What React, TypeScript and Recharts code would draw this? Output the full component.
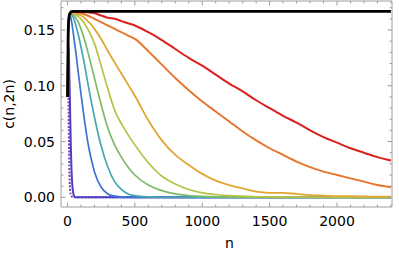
import React from 'react';
import { LineChart, Line, XAxis, YAxis, ReferenceLine } from 'recharts';

const nValues = [1, 5, 10, 15, 20, 25, 30, 40, 50, 60, 80, 100, 125, 150, 175, 200, 250, 300, 350, 400, 450, 500, 600, 700, 800, 900, 1000, 1100, 1200, 1300, 1400, 1500, 1600, 1700, 1800, 1900, 2000, 2100, 2200, 2300, 2400];

const purple = [0.09, 0.11, 0.06, 0.02, 0.006, 0.002, 0.001, 0, 0, 0, 0, 0, 0, 0, 0, 0, 0, 0, 0, 0, 0, 0, 0, 0, 0, 0, 0, 0, 0, 0, 0, 0, 0, 0, 0, 0, 0, 0, 0, 0, 0];
const indigo = [0.09, 0.14, 0.13, 0.105, 0.075, 0.045, 0.025, 0.006, 0.001, 0, 0, 0, 0, 0, 0, 0, 0, 0, 0, 0, 0, 0, 0, 0, 0, 0, 0, 0, 0, 0, 0, 0, 0, 0, 0, 0, 0, 0, 0, 0, 0];
const blue = [0.09, 0.145, 0.16, 0.163, 0.163, 0.161, 0.158, 0.15, 0.141, 0.132, 0.112, 0.093, 0.07, 0.05, 0.035, 0.023, 0.009, 0.003, 0.001, 0.0003, 0, 0, 0, 0, 0, 0, 0, 0, 0, 0, 0, 0, 0, 0, 0, 0, 0, 0, 0, 0, 0];
const teal = [0.09, 0.145, 0.16, 0.164, 0.165, 0.165, 0.164, 0.162, 0.159, 0.155, 0.146, 0.135, 0.12, 0.103, 0.087, 0.072, 0.046, 0.027, 0.014, 0.007, 0.003, 0.0015, 0.0003, 0, 0, 0, 0, 0, 0, 0, 0, 0, 0, 0, 0, 0, 0, 0, 0, 0, 0];
const green = [0.09, 0.145, 0.16, 0.164, 0.165, 0.165, 0.165, 0.164, 0.163, 0.161, 0.157, 0.151, 0.142, 0.131, 0.119, 0.107, 0.083, 0.062, 0.047, 0.036, 0.027, 0.02, 0.011, 0.006, 0.003, 0.0015, 0.0008, 0.0004, 0.0002, 0, 0, 0, 0, 0, 0, 0, 0, 0, 0, 0, 0];
const yellowGreen = [0.09, 0.145, 0.16, 0.164, 0.165, 0.165, 0.165, 0.165, 0.165, 0.164, 0.162, 0.16, 0.156, 0.151, 0.145, 0.138, 0.118, 0.097, 0.078, 0.066, 0.056, 0.047, 0.031, 0.019, 0.012, 0.007, 0.004, 0.0025, 0.0015, 0.001, 0.0005, 0.0004, 0.0003, 0.0002, 0.0001, 0, 0, 0, 0, 0, 0];
const yellow = [0.09, 0.145, 0.16, 0.164, 0.165, 0.165, 0.166, 0.166, 0.166, 0.165, 0.164, 0.163, 0.161, 0.158, 0.155, 0.151, 0.142, 0.131, 0.121, 0.111, 0.101, 0.091, 0.069, 0.051, 0.038, 0.029, 0.021, 0.015, 0.011, 0.008, 0.005, 0.004, 0.004, 0.003, 0.002, 0.0015, 0.001, 0.001, 0.0008, 0.0006, 0.0005];
const orange = [0.09, 0.145, 0.16, 0.164, 0.165, 0.166, 0.166, 0.166, 0.166, 0.166, 0.1655, 0.165, 0.164, 0.163, 0.1615, 0.16, 0.157, 0.154, 0.151, 0.148, 0.145, 0.142, 0.131, 0.119, 0.107, 0.096, 0.086, 0.077, 0.068, 0.059, 0.051, 0.044, 0.038, 0.032, 0.027, 0.023, 0.02, 0.017, 0.014, 0.011, 0.009];
const red = [0.09, 0.145, 0.16, 0.164, 0.165, 0.166, 0.166, 0.1665, 0.1665, 0.1665, 0.1665, 0.1665, 0.166, 0.166, 0.1655, 0.165, 0.163, 0.161, 0.16, 0.158, 0.156, 0.154, 0.148, 0.141, 0.133, 0.125, 0.118, 0.11, 0.102, 0.095, 0.087, 0.08, 0.073, 0.067, 0.06, 0.054, 0.049, 0.044, 0.04, 0.036, 0.033];
const black = [0.09, 0.145, 0.16, 0.164, 0.165, 0.166, 0.1665, 0.1667, 0.1667, 0.1667, 0.1667, 0.1667, 0.1667, 0.1667, 0.1667, 0.1667, 0.1667, 0.1667, 0.1667, 0.1667, 0.1667, 0.1667, 0.1667, 0.1667, 0.1667, 0.1667, 0.1667, 0.1667, 0.1667, 0.1667, 0.1667, 0.1667, 0.1667, 0.1667, 0.1667, 0.1667, 0.1667, 0.1667, 0.1667, 0.1667, 0.1667];

const xMajor = [0, 500, 1000, 1500, 2000];
const xMinor = [100, 200, 300, 400, 600, 700, 800, 900, 1100, 1200, 1300, 1400, 1600, 1700, 1800, 1900, 2100, 2200, 2300, 2400];
const yMajor = [0, 0.05, 0.1, 0.15];
const yMinor = [0.01, 0.02, 0.03, 0.04, 0.06, 0.07, 0.08, 0.09, 0.11, 0.12, 0.13, 0.14, 0.16, 0.17];

const series = [
  { key: 'purple', values: purple, color: '#8a3cb0', width: 2, dash: '2 1.5' },
  { key: 'indigo', values: indigo, color: '#4a40c4', width: 2 },
  { key: 'blue', values: blue, color: '#3f72d2', width: 1.7 },
  { key: 'teal', values: teal, color: '#46a6b2', width: 1.7 },
  { key: 'green', values: green, color: '#7cbc68', width: 1.7 },
  { key: 'yellowGreen', values: yellowGreen, color: '#b6c244', width: 1.7 },
  { key: 'yellow', values: yellow, color: '#e2a632', width: 1.8 },
  { key: 'orange', values: orange, color: '#e8742c', width: 1.9 },
  { key: 'red', values: red, color: '#d9201f', width: 2 },
  { key: 'black', values: black, color: '#000000', width: 2.8 },
];

const data = nValues.map((n, i) => {
  const row: Record<string, number> = { n };
  series.forEach(s => { row[s.key] = s.values[i]; });
  return row;
});

const FRAME = '#9e9e9e';
const FONT = '"DejaVu Sans", sans-serif';
const PLOT_W = 331;
const PLOT_H = 206;

function XTick({ x, y, payload }: any) {
  const major = xMajor.includes(payload.value);
  const len = major ? 4.5 : 2.5;
  return (
    <g>
      <line x1={x} x2={x} y1={y} y2={y - len} stroke={FRAME} />
      <line x1={x} x2={x} y1={y - PLOT_H} y2={y - PLOT_H + len} stroke={FRAME} />
      {major && (
        <text x={x} y={y + 18.5} textAnchor="middle" fontSize={14} fontFamily={FONT} fill="#000">
          {payload.value}
        </text>
      )}
    </g>
  );
}

function YTick({ x, y, payload }: any) {
  const major = yMajor.includes(payload.value);
  const len = major ? 4.5 : 2.5;
  return (
    <g>
      <line x1={x} x2={x + len} y1={y} y2={y} stroke={FRAME} />
      <line x1={x + PLOT_W} x2={x + PLOT_W - len} y1={y} y2={y} stroke={FRAME} />
      {major && (
        <text x={x - 6} y={y + 5} textAnchor="end" fontSize={14} fontFamily={FONT} fill="#000">
          {payload.value.toFixed(2)}
        </text>
      )}
    </g>
  );
}

function XLabel({ viewBox }: any) {
  const { x, y, width } = viewBox;
  return (
    <text x={x + width / 2 + 3} y={y + 41} textAnchor="middle" fontSize={14} fontFamily={FONT} fill="#000">
      n
    </text>
  );
}

function YLabel({ viewBox }: any) {
  const { y, height } = viewBox;
  const cy = y + height / 2;
  return (
    <text x={14} y={cy} transform={`rotate(-90 14 ${cy})`} textAnchor="middle" fontSize={14} fontFamily={FONT} fill="#000">
      c(n,2n)
    </text>
  );
}

export default function App() {
  return (
    <div style={{ position: 'absolute', left: 0, top: 0, width: 399, height: 255, background: '#fff', fontFamily: FONT }}>
      <LineChart width={399} height={255} data={data} margin={{ top: 1, right: 7, bottom: 0, left: 0 }}>
        <XAxis
          dataKey="n"
          type="number"
          domain={[-48, 2408]}
          allowDataOverflow
          ticks={[...xMajor, ...xMinor].sort((a, b) => a - b)}
          interval={0}
          tickSize={0}
          tickMargin={0}
          tickLine={false}
          tick={<XTick />}
          axisLine={{ stroke: FRAME }}
          height={48}
          label={<XLabel />}
        />
        <YAxis
          type="number"
          domain={[-0.0087, 0.176]}
          allowDataOverflow
          ticks={[...yMajor, ...yMinor].sort((a, b) => a - b)}
          interval={0}
          tickSize={0}
          tickMargin={0}
          tickLine={false}
          tick={<YTick />}
          axisLine={{ stroke: FRAME }}
          width={61}
          label={<YLabel />}
        />
        <ReferenceLine y={0.176} stroke={FRAME} />
        <ReferenceLine x={2408} stroke={FRAME} />
        {series.map(s => (
          <Line
            key={s.key}
            type="monotone"
            dataKey={s.key}
            stroke={s.color}
            strokeWidth={s.width}
            strokeDasharray={s.dash}
            dot={false}
            activeDot={false}
            isAnimationActive={false}
          />
        ))}
      </LineChart>
    </div>
  );
}
